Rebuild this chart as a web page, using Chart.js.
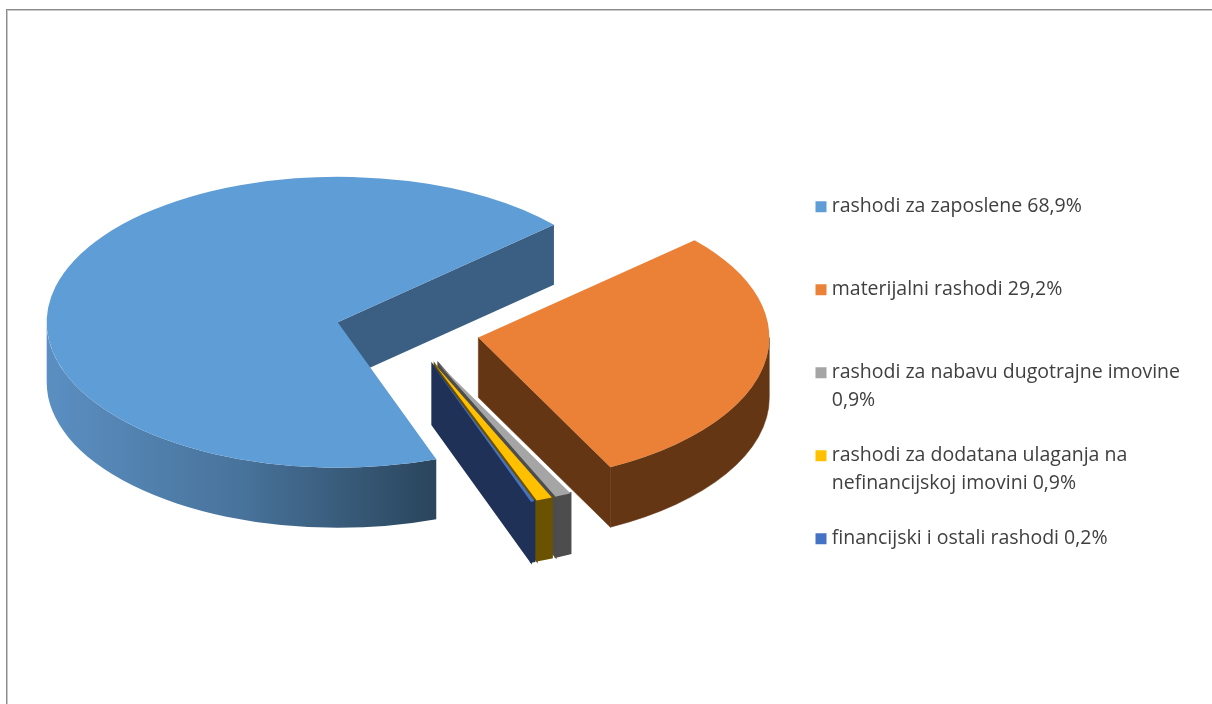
<!DOCTYPE html>
<html>
<head>
<meta charset="utf-8">
<title>Rashodi</title>
<script src="https://cdn.jsdelivr.net/npm/chart.js@4"></script>
<style>
  html, body { margin: 0; padding: 0; background: #fff; overflow: hidden; }
  #frame { position: absolute; left: 6px; top: 9px; width: 1300px; height: 800px; border: 1px solid #8c8c8c; box-shadow: inset 1px 1px 0 #c8c8c8; }
  #pieChart { position: absolute; left: 0; top: 0; }
</style>
</head>
<body>
<div id="frame"></div>
<canvas id="pieChart" width="1212" height="704"></canvas>
<script>
// legend text, second line is empty where the label fits on one line
const categories = [
    ['rashodi za zaposlene 68,9%', ''],
    ['materijalni rashodi 29,2%', ''],
    ['rashodi za nabavu dugotrajne imovine', '0,9%'],
    ['rashodi za dodatana ulaganja na', 'nefinancijskoj imovini 0,9%'],
    ['financijski i ostali rashodi 0,2%', '']
];
const values = [68.9, 29.2, 0.9, 0.9, 0.2];
const topColors = ['#5f9dd6', '#eb8137', '#a5a5a5', '#ffc000', '#4472c4'];
const sideColors = ['#3b5f82', '#653614', '#4d4d4d', '#6b5200', '#1f3157'];

// fake 3D settings
const tilt = 0.5;
const depth = 60;
const explode = 72;

function wallPath(ctx, x, y, r, a0, a1) {
    ctx.beginPath();
    ctx.ellipse(x, y, r, r * tilt, 0, a0, a1);
    ctx.ellipse(x, y + depth, r, r * tilt, 0, a1, a0, true);
    ctx.closePath();
}

function cutPath(ctx, x, y, r, a) {
    const ex = x + Math.cos(a) * r;
    const ey = y + Math.sin(a) * r * tilt;
    ctx.beginPath();
    ctx.moveTo(x, y);
    ctx.lineTo(ex, ey);
    ctx.lineTo(ex, ey + depth);
    ctx.lineTo(x, y + depth);
    ctx.closePath();
}

const pie3d = {
    id: 'pie3d',
    // pull the slices apart, Chart's own offset also changes the radius
    afterDatasetUpdate(chart) {
        chart.getDatasetMeta(0).data.forEach(function(arc) {
            const mid = (arc.startAngle + arc.endAngle) / 2;
            arc.x += Math.cos(mid) * explode;
            arc.y += Math.sin(mid) * explode;
        });
    },
    beforeDatasetDraw(chart) {
        const ctx = chart.ctx;
        const cy = (chart.chartArea.top + chart.chartArea.bottom) / 2;
        ctx.save();
        chart.getDatasetMeta(0).data.forEach(function(arc, i) {
            const x = arc.x;
            const y = cy + (arc.y - cy) * tilt;
            const r = arc.outerRadius;
            // a hairline closes the seams between walls of one colour
            const paint = function() {
                ctx.fill();
                if (i >= 1) {
                    ctx.stroke();
                }
            };
            ctx.fillStyle = sideColors[i];
            ctx.strokeStyle = sideColors[i];
            ctx.lineWidth = i >= 2 ? 2 : 0.5;
            if (Math.cos(arc.endAngle) > 0) {
                cutPath(ctx, x, y, r, arc.endAngle);
                paint();
            }
            if (Math.cos(arc.startAngle) < 0) {
                cutPath(ctx, x, y, r, arc.startAngle);
                paint();
            }
            if (i === 0) {
                const grad = ctx.createLinearGradient(x - r, 0, x + r * 0.34, 0);
                grad.addColorStop(0, '#5b8fc2');
                grad.addColorStop(0.5, '#48739b');
                grad.addColorStop(1, '#2a455c');
                ctx.fillStyle = grad;
            }
            for (let k = -1; k < 3; k++) {
                const a0 = Math.max(arc.startAngle, k * Math.PI * 2);
                const a1 = Math.min(arc.endAngle, k * Math.PI * 2 + Math.PI);
                if (a0 < a1) {
                    wallPath(ctx, x, y, r, a0, a1);
                    paint();
                }
            }
        });
        // squash the flat tops drawn by the chart
        ctx.translate(0, cy);
        ctx.scale(1, tilt);
        ctx.translate(0, -cy);
    },
    afterDatasetDraw(chart) {
        chart.ctx.restore();
    },
    // the legend sits higher up than the layout would put it
    afterLayout(chart) {
        chart.legend.left = 793;
        chart.legend.top = 170;
    }
};

new Chart(document.getElementById('pieChart'), {
    type: 'pie',
    data: {
        labels: categories,
        datasets: [{
            data: values,
            backgroundColor: topColors,
            borderWidth: 0,
            clip: false
        }]
    },
    options: {
        responsive: false,
        animation: false,
        rotation: 160.2,
        radius: 291,
        layout: {
            padding: { left: 0, bottom: 42 }
        },
        plugins: {
            tooltip: { enabled: false },
            legend: {
                position: 'right',
                align: 'start',
                labels: {
                    usePointStyle: true,
                    pointStyle: 'rect',
                    boxWidth: 2,
                    boxHeight: 11,
                    padding: 27,
                    color: '#404040',
                    font: { family: 'Open Sans', size: 19.5, lineHeight: '28px' }
                }
            }
        }
    },
    plugins: [pie3d]
});
</script>
</body>
</html>
